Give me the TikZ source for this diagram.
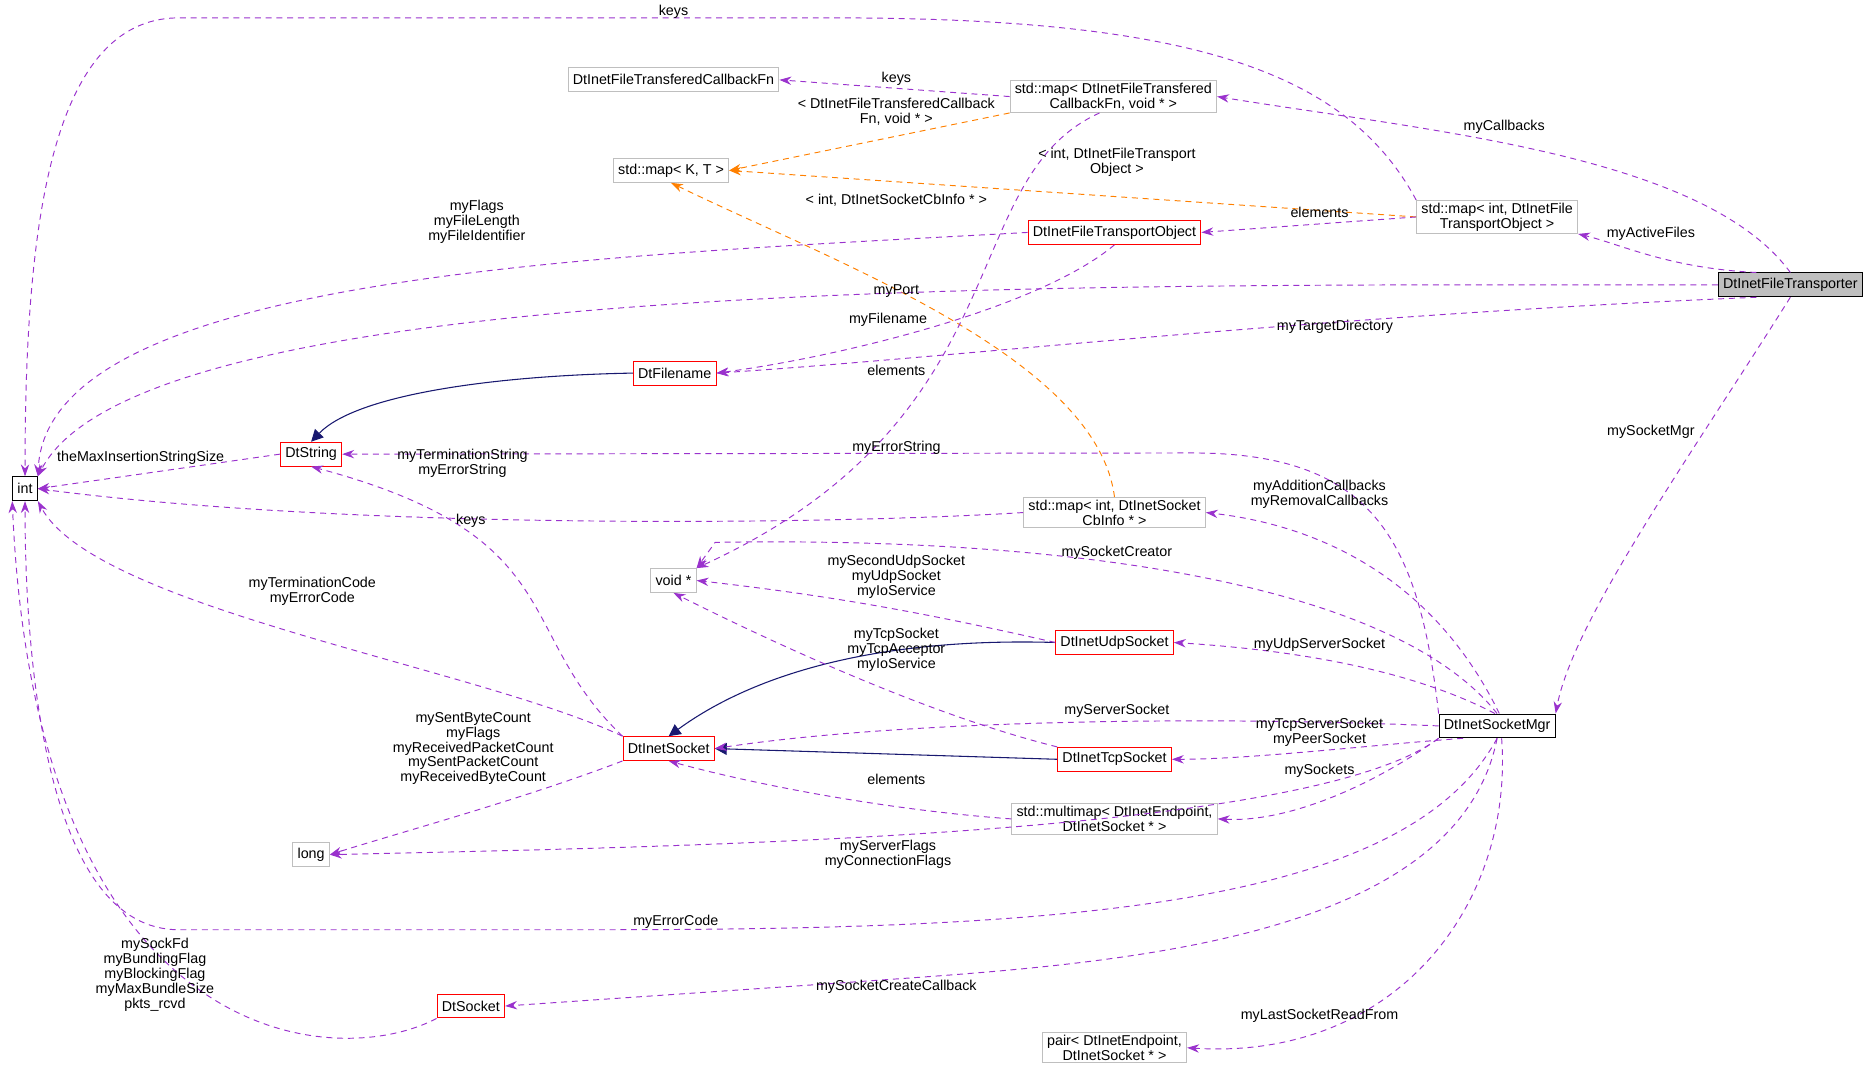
\documentclass[tikz,border=0pt]{standalone}
\usepackage{fontspec}
\setmainfont{Liberation Sans}
\usetikzlibrary{arrows.meta}
\definecolor{edgepurple}{HTML}{9A32CD}
\definecolor{edgenavy}{HTML}{191970}
\definecolor{boxred}{HTML}{FF0000}
\definecolor{boxgray}{HTML}{BFBFBF}
\tikzset{
  cls/.style={draw, rectangle, minimum height=20pt, inner xsep=4pt, inner ysep=2pt, align=center, line width=0.8pt, font=\fontsize{12}{12.5}\selectfont},
  ext/.style={cls, draw=boxgray},
  doc/.style={cls, draw=boxred},
  plain/.style={cls, draw=black},
  use/.style={draw=edgepurple, line width=0.8pt, dash pattern=on 5pt off 4pt, -{Stealth[length=10pt,width=7pt]}},
  tmpl/.style={draw=orange, line width=0.8pt, dash pattern=on 5pt off 4pt, -{Stealth[length=10pt,width=7pt]}},
  inherit/.style={draw=edgenavy, line width=0.9pt, -{Triangle[length=10pt,width=10pt]}},
  lbl/.style={font=\fontsize{12}{12.5}\selectfont, align=center, inner sep=0pt}
}
\begin{document}
\begin{tikzpicture}[x=1pt,y=-1pt]
   \useasboundingbox (0,0) rectangle (1568,905);

   % classes
   \node[plain, fill=black!25] (transporter) at (1502,239) {DtInetFileTransporter};
   \node[plain] (int) at (21,410) {int};
   \node[ext] (cbfn) at (565,67) {DtInetFileTransferedCallbackFn};
   \node[ext] (cbmap) at (934,81) {std::map< DtInetFileTransfered\\CallbackFn, void * >};
   \node[ext] (kt) at (563,143) {std::map< K, T >};
   \node[ext] (ftomap) at (1256,182) {std::map< int, DtInetFile\\TransportObject >};
   \node[doc] (fto) at (935,195) {DtInetFileTransportObject};
   \node[doc] (filename) at (566,313) {DtFilename};
   \node[doc] (dtstring) at (261,381) {DtString};
   \node[ext] (cbinfomap) at (935,430) {std::map< int, DtInetSocket\\CbInfo * >};
   \node[ext] (voidp) at (565,487) {void *};
   \node[doc] (udp) at (935,539) {DtInetUdpSocket};
   \node[plain] (mgr) at (1256,609) {DtInetSocketMgr};
   \node[doc] (socket) at (561,628) {DtInetSocket};
   \node[doc] (tcp) at (935,637) {DtInetTcpSocket};
   \node[ext] (multimap) at (935,687) {std::multimap< DtInetEndpoint,\\DtInetSocket * >};
   \node[ext] (long) at (261,717) {long};
   \node[doc] (dtsocket) at (395,844) {DtSocket};
   \node[ext] (pair) at (935,879) {pair< DtInetEndpoint,\\DtInetSocket * >};

   % template instances
   \draw[tmpl] (cbmap.south west) -- (kt.east);
   \draw[tmpl] (ftomap.west) -- (kt.east);
   \draw[tmpl] (cbinfomap.north) .. controls (920,300) and (700,220) .. (kt.south);

   % inheritance
   \draw[inherit] (filename.west) .. controls (420,315) and (300,330) .. (dtstring.north);
   \draw[inherit] (udp.west) .. controls (750,535) and (640,560) .. (socket.north);
   \draw[inherit] (tcp.west) -- (socket.east);

   % members
   \draw[use] (ftomap.north west) .. controls (1130,60) and (1000,15) .. (700,15)
      -- (150,15) .. controls (40,15) and (21,200) .. (int.north);
   \draw[use] (cbmap.west) -- (cbfn.east);
   \draw[use] (transporter.north) .. controls (1430,130) and (1200,110) .. (cbmap.east);
   \draw[use] (transporter.160) .. controls (1400,225) and (1360,205) .. (ftomap.south east);
   \draw[use] (ftomap.west) -- (fto.east);
   \draw[use] (fto.west) .. controls (500,215) and (40,230) .. (int.north east);
   \draw[use] (transporter.west) .. controls (900,239) and (120,230) .. (int.north east);
   \draw[use] (fto.south) .. controls (870,260) and (700,300) .. (filename.east);
   \draw[use] (transporter.200) .. controls (1100,265) and (800,300) .. (filename.east);
   \draw[use] (cbmap.230) .. controls (800,150) and (860,350) .. (voidp.north east);
   \draw[use] (dtstring.west) -- (int.east);
   \draw[use] (mgr.north west) .. controls (1190,450) and (1150,380) .. (1000,380)
      -- (dtstring.east);
   \draw[use] (socket.north west) .. controls (430,530) and (480,450) .. (dtstring.south);
   \draw[use] (cbinfomap.west) .. controls (700,440) and (300,445) .. (int.east);
   \draw[use] (mgr.80) .. controls (1200,480) and (1100,440) .. (cbinfomap.east);
   \draw[use] (mgr.north) .. controls (1170,490) and (900,450) .. (600,455) -- (voidp.north east);
   \draw[use] (udp.west) .. controls (780,515) and (700,500) .. (voidp.east);
   \draw[use] (tcp.north west) .. controls (780,600) and (650,540) .. (voidp.south);
   \draw[use] (socket.north west) .. controls (400,560) and (80,510) .. (int.south east);
   \draw[use] (mgr.100) .. controls (1180,560) and (1080,545) .. (udp.east);
   \draw[use] (mgr.west) .. controls (1000,600) and (750,605) .. (socket.east);
   \draw[use] (mgr.200) .. controls (1150,625) and (1050,637) .. (tcp.east);
   \draw[use] (mgr.south west) .. controls (1150,660) and (1080,690) .. (multimap.east);
   \draw[use] (multimap.west) .. controls (750,680) and (640,660) .. (socket.south);
   \draw[use] (socket.south west) .. controls (440,670) and (330,700) .. (long.east);
   \draw[use] (mgr.south west) .. controls (1100,700) and (600,710) .. (long.east);
   \draw[use] (mgr.south) .. controls (1180,760) and (900,780) .. (500,780)
      -- (150,780) .. controls (40,780) and (21,560) .. (int.south);
   \draw[use] (mgr.south) .. controls (1220,800) and (900,810) .. (700,825) -- (dtsocket.east);
   \draw[use] (mgr.290) .. controls (1270,760) and (1170,890) .. (pair.east);
   \draw[use] (dtsocket.south west) .. controls (280,900) and (30,880) .. (int.south west);
   \draw[use] (transporter.south) .. controls (1420,380) and (1320,520) .. (mgr.north east);

   % labels
   \node[lbl] (l1) at (565,10) {keys};
   \node[lbl] (l2) at (752,66) {keys};
   \node[lbl] (l3) at (1262,106) {myCallbacks};
   \node[lbl] (l4) at (1385,196) {myActiveFiles};
   \node[lbl] (l5) at (1107,178) {elements};
   \node[lbl] (l6) at (752,94) {< DtInetFileTransferedCallback\\Fn, void * >};
   \node[lbl] (l7) at (937,136) {< int, DtInetFileTransport\\Object >};
   \node[lbl] (l8) at (752,168) {< int, DtInetSocketCbInfo * >};
   \node[lbl] (l9) at (400,186) {myFlags\\myFileLength\\myFileIdentifier};
   \node[lbl] (l10) at (752,244) {myPort};
   \node[lbl] (l11) at (745,268) {myFilename};
   \node[lbl] (l12) at (1120,274) {myTargetDirectory};
   \node[lbl] (l13) at (752,311) {elements};
   \node[lbl] (l14) at (118,384) {theMaxInsertionStringSize};
   \node[lbl] (l15) at (752,376) {myErrorString};
   \node[lbl] (l16) at (388,389) {myTerminationString\\myErrorString};
   \node[lbl] (l17) at (395,437) {keys};
   \node[lbl] (l18) at (1107,415) {myAdditionCallbacks\\myRemovalCallbacks};
   \node[lbl] (l19) at (937,464) {mySocketCreator};
   \node[lbl] (l20) at (752,484) {mySecondUdpSocket\\myUdpSocket\\myIoService};
   \node[lbl] (l21) at (752,545) {myTcpSocket\\myTcpAcceptor\\myIoService};
   \node[lbl] (l22) at (262,496) {myTerminationCode\\myErrorCode};
   \node[lbl] (l23) at (1107,541) {myUdpServerSocket};
   \node[lbl] (l24) at (937,596) {myServerSocket};
   \node[lbl] (l25) at (1107,614) {myTcpServerSocket\\myPeerSocket};
   \node[lbl] (l26) at (1107,647) {mySockets};
   \node[lbl] (l27) at (752,654) {elements};
   \node[lbl] (l28) at (397,628) {mySentByteCount\\myFlags\\myReceivedPacketCount\\mySentPacketCount\\myReceivedByteCount};
   \node[lbl] (l29) at (745,717) {myServerFlags\\myConnectionFlags};
   \node[lbl] (l30) at (567,773) {myErrorCode};
   \node[lbl] (l31) at (752,828) {mySocketCreateCallback};
   \node[lbl] (l32) at (1107,852) {myLastSocketReadFrom};
   \node[lbl] (l33) at (130,818) {mySockFd\\myBundlingFlag\\myBlockingFlag\\myMaxBundleSize\\pkts\_rcvd};
   \node[lbl] (l34) at (1385,362) {mySocketMgr};
 \end{tikzpicture}
\end{document}
